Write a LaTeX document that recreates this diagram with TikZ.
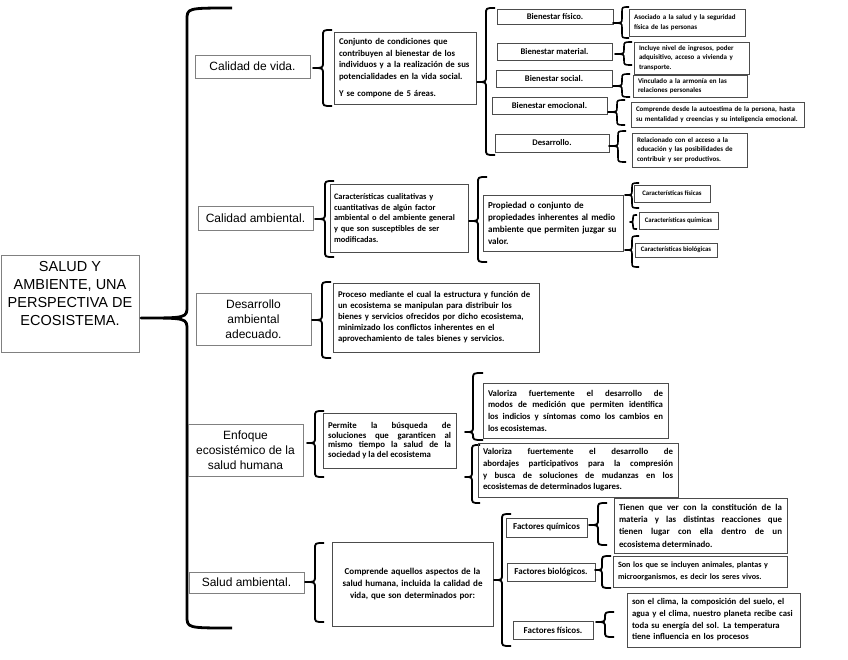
\documentclass[tikz,border=0pt]{standalone}
\usepackage{fontspec}
\setmainfont{Liberation Sans}
\newfontfamily\calib{Carlito}
\def\curlr{6}
% #1 options, #2/#3 tip, #4 vertical x, #5 top, #6 bottom, #7 end of the serifs
\newcommand{\curlyb}[7][]{%
  \draw[curly,#1] (#7,#5) .. controls (#4,#5) .. (#4,#5+\curlr) -- (#4,#3-\curlr)
    .. controls (#4,#3) .. (#2,#3) .. controls (#4,#3) .. (#4,#3+\curlr)
    -- (#4,#6-\curlr) .. controls (#4,#6) .. (#7,#6);}

\begin{document}
\begin{tikzpicture}[
  x=1pt,y=-1pt,
  topicbox/.style={draw=black!50,line width=0.7pt,inner sep=0pt,align=center,
    font=\fontsize{12}{15}\selectfont},
  descbox/.style={draw=black!70,line width=0.9pt,inner xsep=5pt,inner ysep=0pt,
    align=left,font=\calib\bfseries\fontsize{8.8}{11.7}\selectfont},
  smallbox/.style={descbox,font=\calib\bfseries\fontsize{7}{9.8}\selectfont},
  itembox/.style={descbox,inner sep=0pt,align=center,font=\calib\bfseries\fontsize{8.6}{10}\selectfont},
  curly/.style={line width=1.8pt,line join=round},
  curl r/.code={\def\curlr{#1}}
]
  \useasboundingbox (0,0) rectangle (848,659);

  % main topic and the five branches
  \node[topicbox,minimum width=138pt,minimum height=97pt] (main) at (70,303.5) {};
  \node[align=center,font=\fontsize{14.5}{18}\selectfont] (maintext) at (70,294)
    {SALUD Y\\AMBIENTE, UNA\\PERSPECTIVA DE\\ECOSISTEMA.};
  \curlyb[line width=2.8pt,curl r=12]{141}{318}{187}{8}{628}{232}

  \node[topicbox,minimum width=115pt,minimum height=23pt] (calvida) at (252.5,66.5) {Calidad de vida.};
  \node[topicbox,minimum width=115pt,minimum height=24pt] (calamb) at (255.5,218) {Calidad ambiental.};
  \node[topicbox,minimum width=115pt,minimum height=52pt] (desamb) at (253.5,319) {Desarrollo\\ambiental\\adecuado.};
  \node[topicbox,minimum width=115pt,minimum height=52pt] (enfoque) at (245.5,450) {Enfoque\\ecosistémico de la\\salud humana};
  \node[topicbox,minimum width=115pt,minimum height=21pt] (salamb) at (246.5,582.5) {Salud ambiental.};

  % calidad de vida
  \curlyb{313}{68}{323}{30}{106}{332}
  \node[descbox,text width=132pt,minimum height=72pt] (cvdesc) at (405,68)
    {Conjunto de condiciones que\\contribuyen al bienestar de los\\individuos y a la realización de sus\\potencialidades en la vida social.\\[5pt]Y se compone de 5 áreas.};
  \curlyb{477}{82}{486}{8}{155}{495}
  \node[itembox,minimum width=116pt,minimum height=15pt] (bfis) at (555,16.5) {Bienestar físico.};
  \node[itembox,minimum width=115pt,minimum height=17pt] (bmat) at (554.5,51.5) {Bienestar material.};
  \node[itembox,minimum width=116pt,minimum height=17pt] (bsoc) at (554,78.5) {Bienestar social.};
  \node[itembox,minimum width=115pt,minimum height=17pt] (bemo) at (549.5,105.5) {Bienestar emocional.};
  \node[itembox,minimum width=114pt,minimum height=18pt] (bdes) at (552,143) {Desarrollo.};

  \curlyb[line width=1.6pt,curl r=5]{613}{23}{622}{7}{38}{629}
  \curlyb[line width=1.6pt,curl r=5]{615}{54}{624}{42}{65}{632}
  \curlyb[line width=1.6pt,curl r=5]{613}{86}{622}{74}{97}{630}
  \curlyb[line width=1.6pt,curl r=5]{608}{112}{617}{100}{125}{625}
  \curlyb[line width=1.6pt,curl r=5]{609}{146}{618}{131}{162}{626}
  \node[smallbox,text width=106pt,minimum height=27pt] (dfis) at (687,22.5)
    {Asociado a la salud y la seguridad\\física de las personas};
  \node[smallbox,text width=105pt,minimum height=32pt] (dmat) at (691.5,58)
    {Incluye nivel de ingresos, poder\\adquisitivo, acceso a vivienda y\\transporte.};
  \node[smallbox,text width=104pt,minimum height=22pt] (dsoc) at (690,86)
    {Vinculado a la armonía en las\\relaciones personales};
  \node[smallbox,text width=163pt,minimum height=25pt] (demo) at (717.5,114.5)
    {Comprende desde la autoestima de la persona, hasta\\su mentalidad y creencias y su inteligencia emocional.};
  \node[smallbox,text width=105pt,minimum height=34pt] (ddes) at (689.5,150)
    {Relacionado con el acceso a la\\educación y las posibilidades de\\contribuir y ser productivos.};

  % calidad ambiental
  \curlyb{315}{219}{325}{181}{257}{334}
  \node[descbox,inner xsep=4pt,text width=130pt,minimum height=68pt,font=\calib\bfseries\fontsize{8.4}{10.8}\selectfont] (caldesc) at (399,218)
    {Características cualitativas y\\cuantitativas de algún factor\\ambiental o del ambiente general\\y que son susceptibles de ser\\modificadas.};
  \curlyb{469}{221}{478}{177}{262}{487}
  \node[descbox,text width=130pt,minimum height=56pt,font=\calib\bfseries\fontsize{9.1}{12}\selectfont] (prop) at (553,223)
    {Propiedad o conjunto de\\propiedades inherentes al medio\\ambiente que permiten juzgar su\\valor.};
  \curlyb[line width=1.6pt,curl r=5]{625}{195}{632}{183}{208}{639}
  \curlyb[line width=1.6pt,curl r=3]{630}{222}{633}{215}{229}{637}
  \curlyb[line width=1.6pt,curl r=5]{625}{250}{632}{236}{267}{639}
  \node[smallbox,inner xsep=0pt,align=center,minimum width=76pt,minimum height=17pt,font=\calib\bfseries\fontsize{6.8}{8}\selectfont] (cfis) at (672,193.5) {Características físicas};
  \node[smallbox,inner xsep=0pt,align=center,minimum width=79pt,minimum height=17pt,font=\calib\bfseries\fontsize{6.8}{8}\selectfont] (cqui) at (678.5,220.5) {Características químicas};
  \node[smallbox,inner xsep=0pt,align=center,minimum width=82pt,minimum height=14pt,font=\calib\bfseries\fontsize{6.8}{8}\selectfont] (cbio) at (676,250) {Características biológicas};

  % desarrollo ambiental adecuado
  \curlyb{312}{320}{322}{282}{358}{331}
  \node[descbox,text width=196pt,minimum height=69pt,font=\calib\bfseries\fontsize{8.75}{11}\selectfont] (desdesc) at (436,317.5)
    {Proceso mediante el cual la estructura y función de\\un ecosistema se manipulan para distribuir los\\bienes y servicios ofrecidos por dicho ecosistema,\\minimizado los conflictos inherentes en el\\aprovechamiento de tales bienes y servicios.};

  % enfoque ecosistemico
  \curlyb{307}{443}{315}{411}{477}{324}
  \node[descbox,text width=123pt,minimum height=55pt,align=justify,font=\calib\bfseries\fontsize{8.8}{9.4}\selectfont] (enfdesc) at (389.5,440.5)
    {Permite la búsqueda de\linebreak soluciones que garanticen al\linebreak mismo tiempo la salud de la\linebreak sociedad y la del ecosistema};
  \curlyb{465}{432}{473}{373}{440}{483}
  \curlyb{465}{477}{472}{445}{503}{480}
  \node[descbox,text width=175pt,minimum height=55pt,align=justify] (val1) at (575.5,410.5)
    {Valoriza fuertemente el desarrollo de\linebreak modos de medición que permiten identifica\linebreak los indicios y síntomas como los cambios en\linebreak los ecosistemas.};
  \node[descbox,text width=190pt,minimum height=54pt,align=justify] (val2) at (578,470)
    {Valoriza fuertemente el desarrollo de\linebreak abordajes participativos para la compresión\linebreak y busca de soluciones de mudanzas en los\linebreak ecosistemas de determinados lugares.};

  % salud ambiental
  \curlyb{305}{582}{315}{543}{622}{324}
  \node[descbox,text width=151pt,minimum height=84pt,align=center,font=\calib\bfseries\fontsize{9}{11.7}\selectfont] (saldesc) at (412.5,584)
    {Comprende aquellos aspectos de la\\salud humana, incluida la calidad de\\vida, que son determinados por:\\[6pt]};
  \curlyb{494}{580}{502}{514}{646}{511}
  \node[itembox,minimum width=81pt,minimum height=19pt,font=\calib\bfseries\fontsize{9}{10}\selectfont] (fqui) at (546.5,527.5) {Factores químicos};
  \node[itembox,minimum width=88pt,minimum height=18pt,font=\calib\bfseries\fontsize{9}{10}\selectfont] (fbio) at (551,572) {Factores biológicos.};
  \node[itembox,minimum width=80pt,minimum height=18pt,font=\calib\bfseries\fontsize{9}{10}\selectfont] (ffis) at (553,630) {Factores físicos.};
  \curlyb{589}{525}{598}{503}{545}{607}
  \curlyb{595}{570}{602}{556}{588}{611}
  \curlyb{596}{622}{605}{612}{637}{614}
  \node[descbox,text width=163pt,minimum height=55pt,align=justify,font=\calib\bfseries\fontsize{8.9}{12.3}\selectfont] (dqui) at (700.5,525.5)
    {Tienen que ver con la constitución de la\linebreak materia y las distintas reacciones que\linebreak tienen lugar con ella dentro de un\linebreak ecosistema determinado.};
  \node[descbox,text width=164pt,minimum height=31pt,font=\calib\bfseries\fontsize{8.1}{11.5}\selectfont] (dbio) at (700,571.5)
    {Son los que se incluyen animales, plantas y\\microorganismos, es decir los seres vivos.};
  \node[descbox,text width=163pt,minimum height=54pt,font=\calib\bfseries\fontsize{8.7}{11.7}\selectfont] (dfisico) at (713.5,620)
    {son el clima, la composición del suelo, el\\agua y el clima, nuestro planeta recibe casi\\toda su energía del sol. La temperatura\\tiene influencia en los procesos};
\end{tikzpicture}
\end{document}
